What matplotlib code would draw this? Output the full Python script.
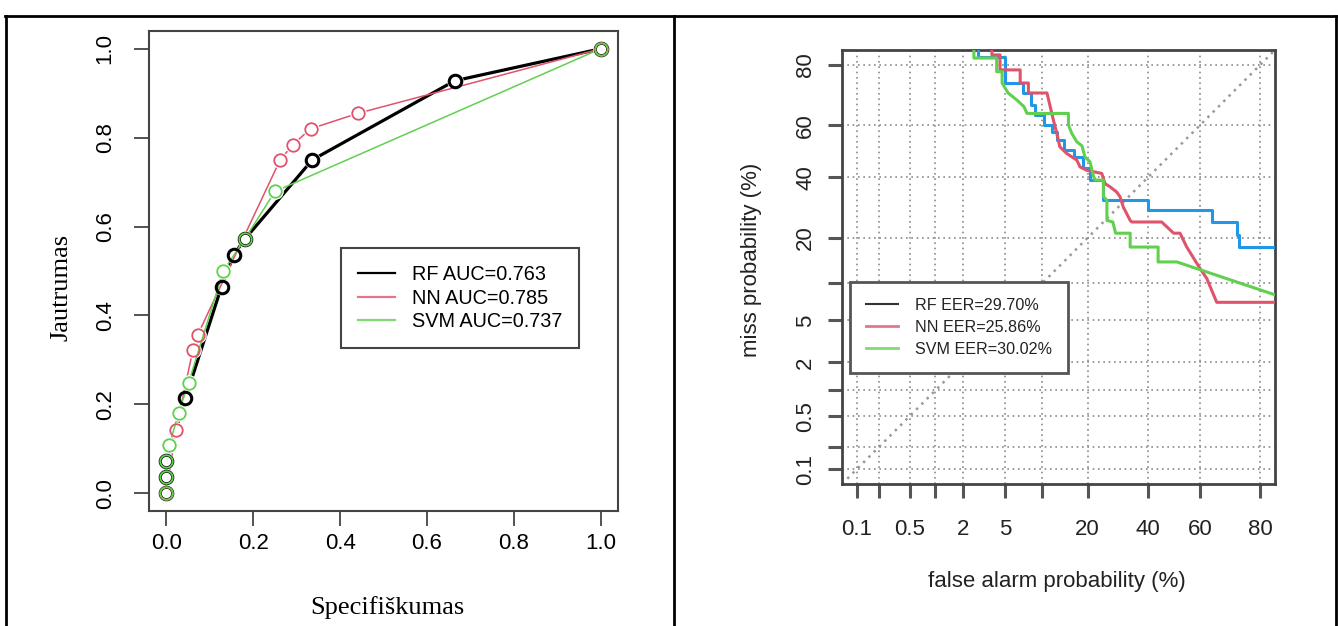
import numpy as np
import matplotlib
matplotlib.use("Agg")
import matplotlib.pyplot as plt
from matplotlib.lines import Line2D
from statistics import NormalDist

# ---------------- ROC data (left panel) ----------------
rf_fpr = [0.0, 0.0, 0.0, 0.044, 0.127, 0.155, 0.18, 0.336, 0.664, 1.0]
rf_tpr = [0.0, 0.036, 0.072, 0.214, 0.465, 0.536, 0.571, 0.75, 0.928, 1.0]
nn_fpr = [0.0, 0.022, 0.061, 0.072, 0.262, 0.291, 0.332, 0.442, 1.0]
nn_tpr = [0.0, 0.143, 0.322, 0.356, 0.75, 0.784, 0.82, 0.855, 1.0]
svm_fpr = [0.0, 0.0, 0.0, 0.007, 0.028, 0.051, 0.131, 0.18, 0.25, 1.0]
svm_tpr = [0.0, 0.036, 0.072, 0.108, 0.181, 0.248, 0.50, 0.571, 0.679, 1.0]
roc_labels = ["RF AUC=0.763", "NN AUC=0.785", "SVM AUC=0.737"]
roc_ticks = [0.0, 0.2, 0.4, 0.6, 0.8, 1.0]

# ---------------- DET data (right panel, %) ----------------
rf_fa = [2.8, 2.8, 5.0, 5.0, 7.1, 7.1, 8.15, 8.15, 8.8, 8.8, 10.2, 10.2, 11.7, 11.7,
         12.7, 12.7, 14.1, 14.1, 16.4, 16.4, 18.9, 18.9, 20.7, 20.7, 24.6, 24.6,
         40.1, 40.1, 64.4, 64.4, 73.0, 73.0, 73.6, 73.6, 90.0]
rf_miss = [90.0, 82.2, 82.2, 74.7, 74.7, 71.5, 71.5, 67.4, 67.4, 63.8, 63.8, 60.1, 60.1, 57.6,
           57.6, 54.4, 54.4, 50.5, 50.5, 47.9, 47.9, 43.4, 43.4, 39.0, 39.0, 31.7,
           31.7, 28.3, 28.3, 24.6, 24.6, 20.7, 20.7, 17.6, 17.6]
nn_fa = [3.8, 3.8, 4.5, 4.5, 6.7, 6.7, 7.8, 7.8, 10.8, 11.4, 12.0, 12.7, 13.3, 14.8, 17.2,
         18.0, 19.8, 24.1, 25.1, 26.7, 28.9, 30.0, 31.1, 33.5, 34.1, 45.3, 49.9, 52.4,
         55.0, 60.1, 62.6, 66.2, 90.0]
nn_miss = [90.0, 82.6, 82.6, 78.6, 78.6, 74.7, 74.7, 71.5, 71.5, 66.8, 62.0, 56.9, 51.8, 49.2, 46.6,
           44.0, 42.7, 41.5, 37.7, 36.5, 34.6, 32.9, 29.4, 25.1, 24.6, 24.6, 21.3, 21.3,
           17.6, 12.7, 10.8, 7.1, 7.1]
svm_fa = [2.56, 2.56, 4.2, 4.2, 4.7, 4.7, 5.3, 6.3, 7.2, 7.6, 15.2, 15.2, 16.0, 17.2, 18.5,
          19.3, 20.7, 21.6, 22.1, 24.6, 24.6, 25.7, 25.7, 27.6, 28.5, 33.5, 33.5, 43.9,
          43.9, 51.2, 84.0]
svm_miss = [90.0, 81.8, 81.8, 78.1, 78.1, 74.7, 71.5, 69.1, 66.8, 64.4, 64.4, 60.1, 56.9, 53.7, 52.2,
            47.9, 45.9, 40.8, 39.0, 39.0, 33.0, 31.7, 25.1, 24.6, 21.3, 21.3, 17.6, 17.6,
            14.1, 14.1, 8.1]
det_labels = ["RF EER=29.70%", "NN EER=25.86%", "SVM EER=30.02%"]
det_ticks = [0.1, 0.2, 0.5, 1, 2, 5, 10, 20, 40, 60, 80]
det_ticklabels = ["0.1", "", "0.5", "", "2", "5", "", "20", "40", "60", "80"]

C_BLACK = "#000000"
C_RED = "#DF536B"
C_GREEN = "#61D04F"
C_BLUE = "#2297E6"
FRAME = "#444444"

SANS = ["Liberation Sans", "DejaVu Sans"]
SERIF = ["Liberation Serif", "DejaVu Serif"]

W, H = 1338, 626
fig = plt.figure(figsize=(W / 100, H / 100), dpi=100)


def fx(px):
    return px / W


def fy(py):
    return 1 - py / H


# ---------------- left panel ----------------
ax1 = fig.add_axes([fx(149), fy(511), (618 - 149) / W, (511 - 31) / H])


def roc_series(x, y, color, lw, mew, k):
    # R type="b": line with a small gap around each point
    ax1.plot(x, y, color=color, lw=lw, zorder=3 + k)
    ax1.plot(x, y, ls="none", marker="o", ms=12, mfc="white", mec="white",
             mew=0, zorder=3 + k + 0.5)
    ax1.plot(x, y, ls="none", marker="o", ms=9, mew=mew, mfc="none", mec=color,
             zorder=8 + k)


roc_series(rf_fpr, rf_tpr, C_BLACK, 2.3, 2.2, 0)
roc_series(nn_fpr, nn_tpr, C_RED, 1.1, 1.3, 1)
roc_series(svm_fpr, svm_tpr, C_GREEN, 1.1, 1.3, 2)
ax1.set_xlim(-0.04, 1.04)
ax1.set_ylim(-0.04, 1.04)
ax1.set_xticks(roc_ticks)
ax1.set_yticks(roc_ticks)
ax1.set_xticklabels([f"{t:.1f}" for t in roc_ticks], family=SANS, fontsize=16)
ax1.set_yticklabels([f"{t:.1f}" for t in roc_ticks], family=SANS, fontsize=16,
                    rotation=90, va="center")
ax1.tick_params(axis="both", direction="out", length=11, width=1.3, color=FRAME)
ax1.tick_params(axis="x", pad=5)
ax1.tick_params(axis="y", pad=13)
for s in ax1.spines.values():
    s.set_color(FRAME)
    s.set_linewidth(1.5)
h1 = [Line2D([], [], color=C_BLACK, lw=1.6),
      Line2D([], [], color=C_RED, lw=1.6, alpha=0.8),
      Line2D([], [], color=C_GREEN, lw=1.6, alpha=0.8)]
leg1 = ax1.legend(h1, roc_labels, loc="upper left",
                  bbox_to_anchor=(fx(341), fy(248)), bbox_transform=fig.transFigure,
                  prop={"family": SANS, "size": 14.3}, frameon=True, fancybox=False,
                  edgecolor=FRAME, framealpha=1, handlelength=1.86, handletextpad=0.84,
                  labelspacing=0.24, borderpad=0.85, borderaxespad=0)
leg1.get_frame().set_linewidth(1.5)
leg1.set_zorder(20)
fig.text(fx(387), fy(608), "Specifiškumas", family=SERIF, fontsize=19,
         ha="center", va="center")
fig.text(fx(62), fy(287), "Jautrumas", family=SERIF, fontsize=19,
         ha="center", va="center", rotation=90)

# ---------------- right panel ----------------
nd = NormalDist()
_inv = np.vectorize(lambda p: nd.inv_cdf(min(max(p / 100.0, 1e-9), 1 - 1e-9)),
                    otypes=[float])
_cdf = np.vectorize(lambda z: nd.cdf(z) * 100.0, otypes=[float])


def fwd(v):
    return _inv(np.asarray(v, dtype=float))


def inv(v):
    return _cdf(np.asarray(v, dtype=float))


ax2 = fig.add_axes([fx(842), fy(484), (1275 - 842) / W, (484 - 50) / H])
ax2.set_xscale("function", functions=(fwd, inv))
ax2.set_yscale("function", functions=(fwd, inv))
lim = (0.0606, 83.8)
ax2.set_xlim(*lim)
ax2.set_ylim(*lim)
for t in det_ticks:
    ax2.axvline(t, color="#8a8a8a", lw=1.2, ls=(0, (1, 2.2)), zorder=1)
    ax2.axhline(t, color="#8a8a8a", lw=1.2, ls=(0, (1, 2.2)), zorder=1)
ax2.plot(lim, lim, color="#999999", lw=1.8, ls=(0, (1, 2)), zorder=2)
ax2.plot(rf_fa, rf_miss, color=C_BLUE, lw=2.2, zorder=3)
ax2.plot(nn_fa, nn_miss, color=C_RED, lw=2.2, zorder=3)
ax2.plot(svm_fa, svm_miss, color=C_GREEN, lw=2.2, zorder=3)
ax2.set_xticks(det_ticks)
ax2.set_yticks(det_ticks)
ax2.xaxis.set_minor_locator(matplotlib.ticker.NullLocator())
ax2.yaxis.set_minor_locator(matplotlib.ticker.NullLocator())
ax2.set_xticklabels(det_ticklabels, family=SANS, fontsize=16, color="#222222")
ax2.set_yticklabels(det_ticklabels, family=SANS, fontsize=16, color="#222222",
                    rotation=90, va="center")
ax2.tick_params(axis="both", direction="out", length=10, width=2.2, color="#555555")
ax2.tick_params(axis="x", pad=15)
ax2.tick_params(axis="y", pad=8.7)
for s in ax2.spines.values():
    s.set_color(FRAME)
    s.set_linewidth(2)
h2 = [Line2D([], [], color="#333333", lw=1.5),
      Line2D([], [], color=C_RED, lw=2, alpha=0.8),
      Line2D([], [], color=C_GREEN, lw=2, alpha=0.8)]
leg2 = ax2.legend(h2, det_labels, loc="upper left",
                  bbox_to_anchor=(fx(850), fy(282)), bbox_transform=fig.transFigure,
                  prop={"family": SANS, "size": 11.6}, frameon=True, fancybox=False,
                  edgecolor="#555555", framealpha=1, handlelength=1.96, handletextpad=1.08,
                  labelspacing=0.42, borderpad=1.0, borderaxespad=0)
leg2.get_frame().set_linewidth(2)
leg2.set_zorder(10)
for t in leg2.get_texts():
    t.set_color("#222222")
fig.text(fx(1057), fy(582), "false alarm probability (%)", family=SANS, fontsize=16,
         ha="center", va="center", color="#222222")
fig.text(fx(751), fy(260), "miss probability (%)", family=SANS, fontsize=16,
         ha="center", va="center", rotation=90, color="#222222")

# ---------------- outer table borders ----------------
bw = 2.0
for (x0, y0, x1, y1) in [(5, 16, 1336, 16), (6, 16, 6, 626), (674, 16, 674, 626),
                         (1336, 16, 1336, 626)]:
    fig.add_artist(Line2D([fx(x0), fx(x1)], [fy(y0), fy(y1)], color="black",
                          lw=bw, transform=fig.transFigure))

fig.savefig("out.png", dpi=100)
